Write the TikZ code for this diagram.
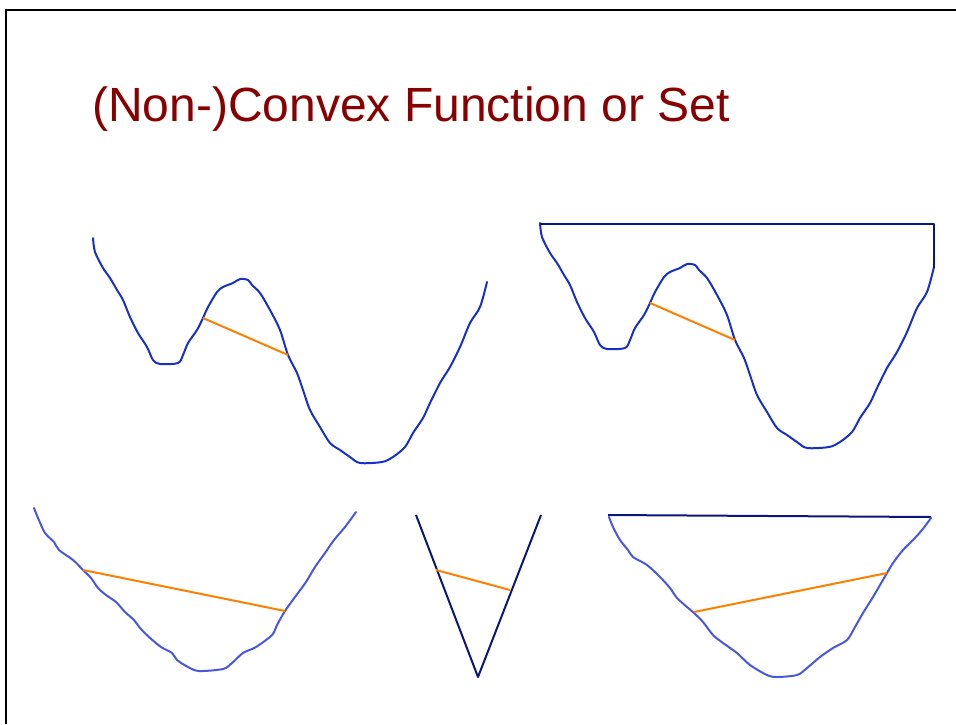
\documentclass[tikz,border=0pt]{standalone}
\usepackage{fontspec}
\setmainfont{Liberation Sans}
\usepackage{tikz}
\usetikzlibrary{positioning,calc}

\definecolor{titlered}{RGB}{136,0,0}
\definecolor{curveblue}{RGB}{22,48,200}
\definecolor{lightblue}{RGB}{72,88,222}
\definecolor{navyline}{RGB}{10,22,120}
\definecolor{chordorange}{RGB}{255,128,0}

% the wavy non-convex function, reused for the set
\newcommand{\wavypts}{(93,238) (95,252) (103,268) (110,278) (117,290) (123,300) (130,317) (138,333) (147,347) (153,360) (160,364) (178,363) (183,355) (188,343) (197,330) (203,318) (208,307) (217,292) (223,287) (233,283) (240,279) (248,280) (252,285) (260,293) (270,310) (280,330) (288,355) (297,373) (303,390) (310,410) (320,427) (330,443) (340,450) (350,457) (360,463) (382,462) (393,457) (405,447) (413,433) (423,418) (430,403) (440,383) (450,367) (460,347) (470,323) (480,307) (487,282)}

\begin{document}
\begin{tikzpicture}[
        x=1pt, y=-1pt,
        frameline/.style={draw=black, line width=1.8pt},
        title/.style={anchor=base west, inner sep=0pt, text=titlered, font=\fontsize{48}{56}\selectfont},
        curve/.style={draw=curveblue, line width=2pt, line join=round, line cap=round},
        lightcurve/.style={draw=lightblue, line width=2pt, line join=round, line cap=round},
        straight/.style={draw=navyline, line width=2pt, line join=round},
        chord/.style={draw=chordorange, line width=2pt}
        ]
        \useasboundingbox (0,0) rectangle (956,724);

        % slide frame
        \draw[frameline] (956,10) -- (6,10) -- (6,724);

        % title
        \node[title] (heading) at (92,121) {(Non-)Convex Function or Set};

        % top left: non-convex function
        \draw[curve] plot[smooth] coordinates {\wavypts};
        \coordinate (fa) at (203,318);
        \coordinate (fb) at (288,355);
        \draw[chord] (fa) -- (fb);

        % top right: non-convex set (same curve, closed on top)
        \begin{scope}[shift={(447,-15)}]
            \draw[curve] plot[smooth] coordinates {\wavypts};
            \coordinate (sa) at (203,318);
            \coordinate (sb) at (288,355);
        \end{scope}
        \coordinate (sl) at (540,224);
        \coordinate (sr) at (934,224);
        \coordinate (se) at (934,268);
        \draw[straight] (sl) -- (sr) -- (se);
        \draw[chord] (sa) -- (sb);

        % bottom left: convex function
        \draw[lightcurve] plot[smooth] coordinates {(34,508) (38,518) (45,533) (54,542) (59,550) (73,560) (83,570) (91,578) (98,588) (106,595) (116,602) (125,612) (134,620) (140,628) (149,637) (161,647) (172,653) (177,660) (188,667) (199,671) (223,669) (232,663) (243,653) (256,647) (272,635) (277,625) (285,611) (295,597) (306,582) (315,567) (325,553) (334,540) (345,527) (356,512)};
        \coordinate (ca) at (83,570);
        \coordinate (cb) at (285,611);
        \draw[chord] (ca) -- (cb);

        % bottom middle: convex V
        \coordinate (vl) at (416,515);
        \coordinate (vt) at (478,677);
        \coordinate (vr) at (541,515);
        \draw[straight] (vl) -- (vt) -- (vr);
        \coordinate (va) at (436,570);
        \coordinate (vb) at (510,590);
        \draw[chord] (va) -- (vb);

        % bottom right: convex set
        \coordinate (tl) at (608,515);
        \coordinate (tr) at (931,517);
        \draw[straight] (tl) -- (tr);
        \draw[lightcurve] plot[smooth] coordinates {(609,517) (613,527) (620,540) (628,550) (633,557) (647,565) (660,577) (670,588) (677,598) (687,607) (694,613) (703,622) (713,635) (723,643) (737,653) (750,665) (767,675) (777,677) (797,675) (807,668) (820,657) (833,648) (847,640) (855,627) (863,613) (873,597) (880,585) (887,573) (893,563) (903,550) (913,540) (922,530) (931,518)};
        \coordinate (ka) at (694,612);
        \coordinate (kb) at (887,573);
        \draw[chord] (ka) -- (kb);
    \end{tikzpicture}
\end{document}
